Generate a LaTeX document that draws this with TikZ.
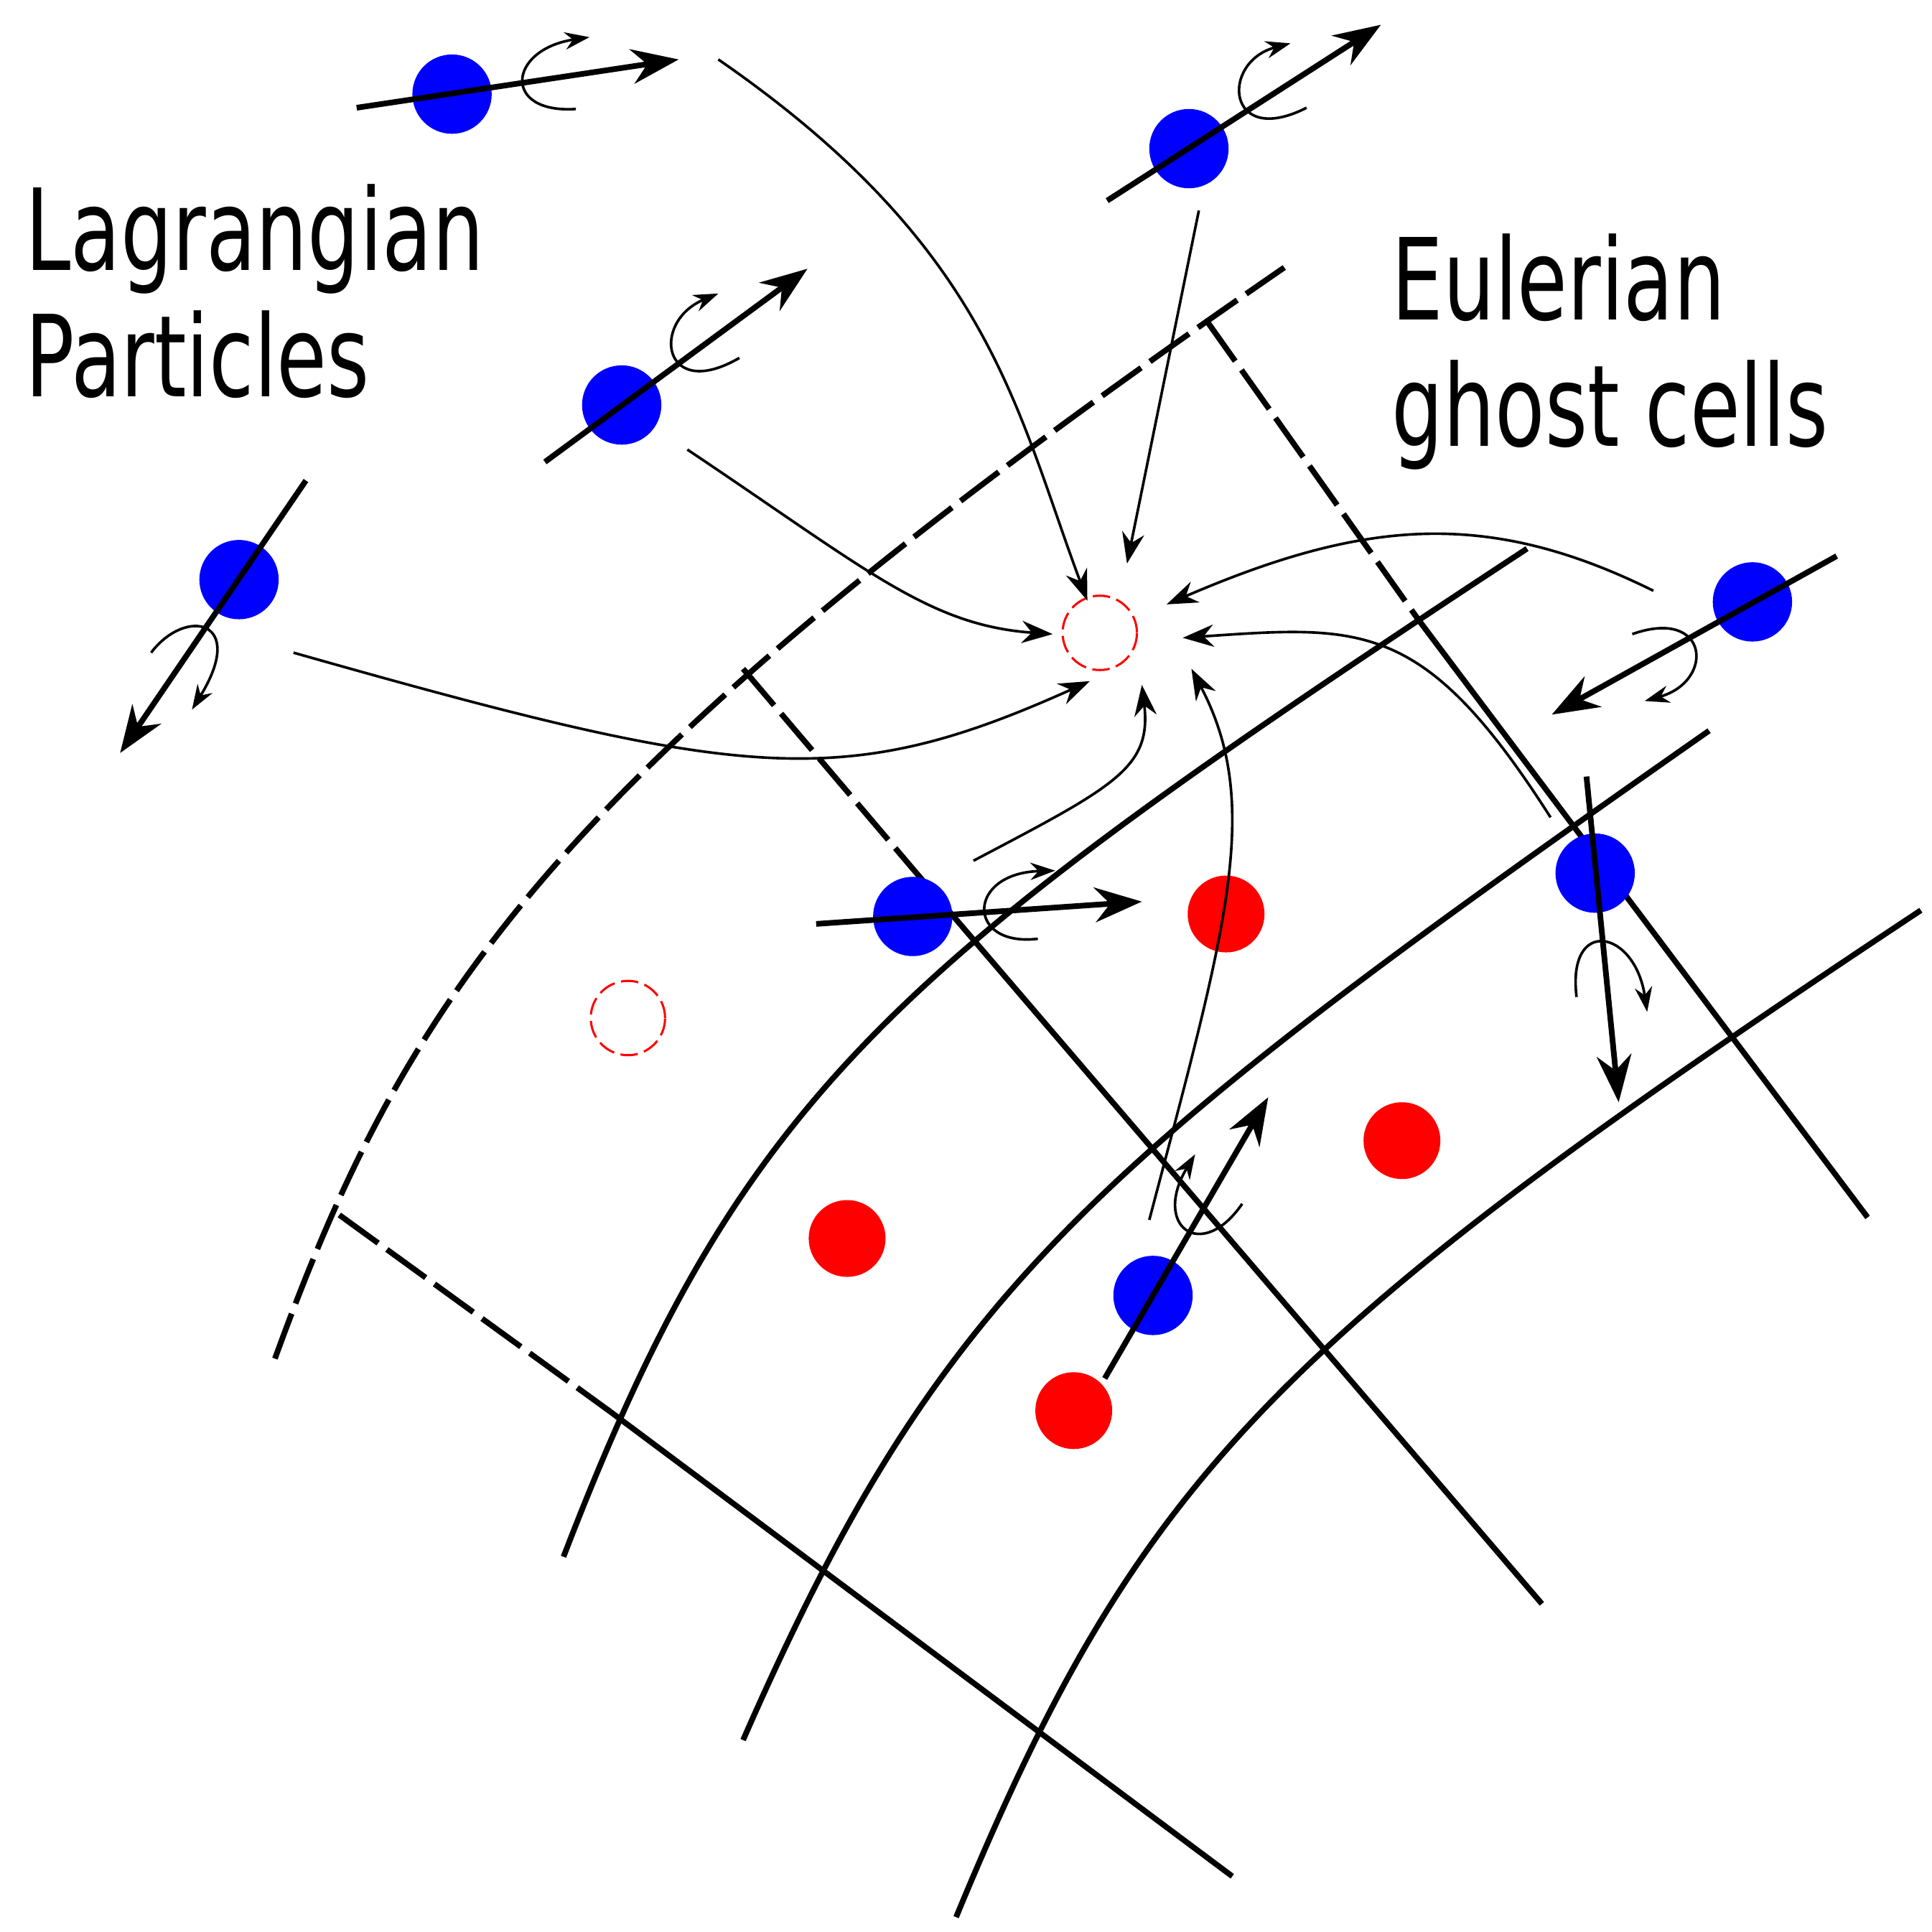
\documentclass[tikz,border=0pt]{standalone}
\usepackage{fontspec}
\setmainfont{DejaVu Sans}[FakeStretch=0.72]
\usetikzlibrary{arrows.meta}
\begin{document}
\begin{tikzpicture}[x=0.01cm,y=-0.01cm,
 grid/.style={line width=1.3pt},
 dgrid/.style={line width=1.3pt,dash pattern=on 11pt off 2.5pt},
 blue dot/.style={circle,fill=blue,minimum size=0.64cm,inner sep=0},
 red dot/.style={circle,fill=red,minimum size=0.62cm,inner sep=0},
 ghost/.style={circle,draw=red,dash pattern=on 4pt off 1.5pt,minimum size=0.6cm,inner sep=0,line width=0.5pt},
 vel/.style={line width=1.3pt,-{Stealth[length=0.38cm,width=0.28cm]}},
 spin/.style={line width=0.6pt,-{Stealth[length=0.2cm,width=0.14cm]}},
 flow/.style={line width=0.6pt,-{Stealth[length=0.25cm,width=0.18cm]}},
 lbl/.style={font=\fontsize{26}{29}\selectfont,align=left,anchor=north west,inner sep=0}]
\useasboundingbox (0,0) rectangle (1560,1560);
% grid
\draw[dgrid] (222,1097) .. controls (330,800) and (450,620) .. (1037,216);
\draw[grid] (455,1257) .. controls (600,880) and (720,780) .. (1233,443);
\draw[grid] (600,1405) .. controls (760,1040) and (880,940) .. (1380,590);
\draw[grid] (772,1548) .. controls (920,1190) and (1030,1080) .. (1551,735);
\draw[dgrid] (274,981) -- (493,1140);
\draw[grid] (493,1140) -- (995,1515);
\draw[dgrid] (600,540) -- (740,705);
\draw[grid] (740,705) -- (1245,1295);
\draw[dgrid] (975,260) -- (1145,500);
\draw[grid] (1145,500) -- (1508,983);
% cells
\node[red dot] (r1) at (990,738) {};
\node[red dot] (r2) at (684,1000) {};
\node[red dot] (r3) at (1132,921) {};
\node[red dot] (r4) at (867,1139) {};
\node[ghost] (g1) at (888,511) {};
\node[ghost] (g2) at (507,822) {};
% flows
\coordinate (f1) at (580,48); \coordinate (f2) at (968,170); \coordinate (f3) at (555,363);
\coordinate (f4) at (237,527); \coordinate (f5) at (786,695); \coordinate (f6) at (928,985);
\coordinate (f7) at (1252,660); \coordinate (f8) at (1335,477);
\coordinate (t1) at (878,485); \coordinate (t2) at (910,455); \coordinate (t3) at (850,512);
\coordinate (t4) at (880,550); \coordinate (t5) at (922,553); \coordinate (t6) at (962,540);
\coordinate (t7) at (955,515); \coordinate (t8) at (942,488);
\draw[flow] (f1) .. controls (800,200) and (820,330) .. (t1);
\draw[flow] (f2) -- (t2);
\draw[flow] (f3) .. controls (700,460) and (750,505) .. (t3);
\draw[flow] (f4) .. controls (600,630) and (680,640) .. (t4);
\draw[flow] (f5) .. controls (900,635) and (930,620) .. (t5);
\draw[flow] (f6) .. controls (990,750) and (1020,650) .. (t6);
\draw[flow] (f7) .. controls (1150,500) and (1100,505) .. (t7);
\draw[flow] (f8) .. controls (1200,410) and (1100,420) .. (t8);
% particles
\foreach \n/\x/\y in {b1/365/76,b2/960/120,b3/502/327,b4/193/468,b5/1415/486,b6/737/740,b7/1288/705,b8/931/1046}
  \node[blue dot] (\n) at (\x,\y) {};
\foreach \a/\b/\c/\d in {288/87/548/48, 894/162/1115/20, 440/373/652/217, 247/388/97/608, 1483/449/1253/577, 659/746/922/728, 1281/627/1307/890, 892/1113/1024/886}
  \draw[vel] (\a,\b) -- (\c,\d);
\draw[spin] (465,88) .. controls (405,92) and (410,40) .. (476,30);
\draw[spin] (1055,87) .. controls (990,120) and (985,50) .. (1042,35);
\draw[spin] (597,289) .. controls (535,325) and (525,260) .. (580,237);
\draw[spin] (122,527) .. controls (150,490) and (200,500) .. (155,573);
\draw[spin] (1318,512) .. controls (1380,490) and (1385,550) .. (1328,566);
\draw[spin] (838,758) .. controls (780,765) and (780,705) .. (852,703);
\draw[spin] (1273,805) .. controls (1265,740) and (1320,750) .. (1330,817);
\draw[spin] (1003,972) .. controls (970,1020) and (930,990) .. (965,932);
% labels
\node[lbl] (L) at (20,148) {Lagrangian\\Particles};
\node[lbl] (E) at (1123,188) {Eulerian\\ghost cells};
\end{tikzpicture}
\end{document}
